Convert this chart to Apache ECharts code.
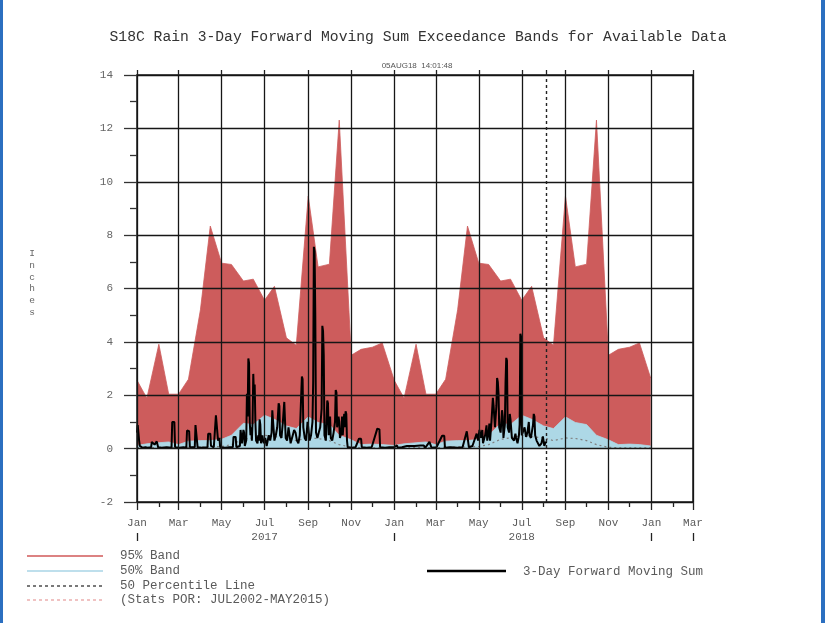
<!DOCTYPE html>
<html>
<head>
<meta charset="utf-8">
<script src="https://cdn.jsdelivr.net/npm/echarts@6/dist/echarts.min.js"></script>
<style>
  html, body { margin: 0; padding: 0; background: #ffffff; }
  #chart { width: 827px; height: 623px; }
</style>
</head>
<body>
<div id="chart"></div>
<script>
// ---- data ----------------------------------------------------------------
// Climatology sample dates (1st and 15th of every month), repeated each year
const halfMonthDates = ['01-01','01-15','02-01','02-15','03-01','03-15','04-01','04-15',
  '05-01','05-15','06-01','06-15','07-01','07-15','08-01','08-15',
  '09-01','09-15','10-01','10-15','11-01','11-15','12-01','12-15'];
const bandYears = [2017, 2018];
const bandEndDate = '2018-12-31';

// 95% exceedance band, upper edge (inches)
const band95 = [2.56, 1.89, 3.91, 2.04, 2.04, 2.6, 5.2, 8.34, 6.95, 6.9, 6.28, 6.35,
  5.56, 6.08, 4.15, 3.87, 9.46, 6.81, 6.91, 12.31, 3.5, 3.72, 3.8, 3.96];
const band95End = 2.64;

// 50% exceedance band, upper edge (inches)
const band50 = [0.12, 0.18, 0.22, 0.25, 0.15, 0.28, 0.3, 0.3, 0.35, 0.5, 0.95, 0.9,
  1.25, 1.1, 0.85, 0.75, 1.19, 0.98, 0.9, 0.5, 0.33, 0.15, 0.17, 0.15];
const band50End = 0.1;

// 50 percentile line (inches)
const median = [0.03, 0.03, 0.04, 0.04, 0.03, 0.05, 0.06, 0.06, 0.08, 0.15, 0.35, 0.4,
  0.5, 0.45, 0.4, 0.3, 0.4, 0.38, 0.3, 0.15, 0.05, 0.03, 0.03, 0.03];
const medianEnd = 0.03;

// Observed 3-day forward moving sum: [day since 2017-01-01, inches]
const movingSum = [
  [0,0.6],[1,0.88],[2,0.85],[3,0.3],[4,0.1],[5,0.05],[8,0.03],[12,0.05],[15,0.03],
  [20,0.05],[21,0.25],[23,0.27],[24,0.27],[25,0.15],[26,0.22],[28,0.27],[29,0.25],[30,0.05],
  [35,0.03],[42,0.05],[49,0.03],[50,1.0],[53,1.0],[54,0.05],
  [60,0.03],[66,0.05],[70,0.03],[71,0.68],[74,0.65],[75,0.05],
  [82,0.05],[83,0.88],[85,0.85],[86,0.05],
  [92,0.03],[100,0.05],[101,0.56],[104,0.56],[105,0.1],
  [109,0.05],[111,0.1],[112,1.25],[114,1.2],[115,0.3],[117,0.4],[118,0.05],
  [125,0.03],[131,0.05],[136,0.05],[137,0.44],[140,0.44],[141,0.05],
  [146,0.1],[147,0.7],[149,0.2],[150,0.25],[151,0.7],[152,0.6],[153,0.1],
  [155,0.3],[156,2.06],[157,1.2],[158,3.38],[159,3.2],[160,1.0],[161,0.5],[162,0.8],[163,0.3],
  [164,1.0],[165,2.8],[166,2.0],[167,2.4],[168,1.0],[169,0.3],
  [171,0.2],[172,0.5],[173,0.3],[174,1.1],[175,0.9],[176,0.2],[178,0.5],[179,0.3],
  [180,0.2],[182,0.4],[184,0.1],[187,0.5],[189,0.3],[191,0.6],[192,1.44],[194,1.4],[195,0.3],
  [197,0.5],[199,0.8],[201,1.7],[202,1.6],[203,0.5],[205,0.4],[207,1.0],[209,1.75],[210,1.7],
  [211,0.4],[213,0.3],[215,0.8],[216,0.6],[218,0.2],[220,0.4],[223,0.7],[225,0.6],[227,0.3],
  [229,0.2],[231,0.5],[233,2.0],[234,2.7],[235,2.6],[236,0.8],[238,0.4],[240,0.3],[242,1.0],
  [243,0.8],[245,0.3],[247,0.5],[249,1.0],[250,2.5],[251,7.56],[252,7.4],[253,5.0],[254,0.6],
  [256,0.4],[258,0.6],[260,0.8],[262,1.5],[263,4.6],[264,4.4],[265,3.5],[266,0.5],[268,0.3],
  [270,1.8],[271,1.7],[272,0.5],[274,1.2],[275,0.4],[277,0.3],[279,0.6],[281,1.0],[282,2.2],
  [283,2.1],[284,0.8],[286,1.2],[287,1.0],[288,0.4],[290,0.6],[291,1.2],[292,0.5],[294,1.3],
  [295,0.8],[296,1.4],[297,1.3],[298,0.3],[299,0.05],
  [305,0.03],[310,0.05],[315,0.37],[318,0.37],[319,0.05],[326,0.03],[333,0.05],
  [341,0.75],[344,0.72],[345,0.05],[352,0.03],[358,0.05],
  [365,0.05],[367,0.12],[369,0.12],[370,0.03],[376,0.05],[383,0.1],[386,0.1],[388,0.05],
  [391,0.1],[394,0.1],[396,0.03],[402,0.12],[404,0.1],[407,0.12],[409,0.03],[415,0.25],
  [417,0.25],[418,0.03],[425,0.05],[433,0.48],[436,0.48],[437,0.03],[445,0.05],[455,0.03],
  [462,0.05],[468,0.65],[470,0.62],[471,0.05],[476,0.1],[482,0.56],[484,0.3],[486,0.7],
  [488,0.4],[490,0.7],[491,0.2],[494,0.5],[496,0.87],[497,0.3],[499,0.6],[500,0.94],[501,0.3],
  [503,1.0],[505,1.9],[506,1.6],[508,0.8],[510,1.6],[511,2.65],[512,2.5],[513,2.06],[514,0.8],
  [516,0.6],[518,1.44],[519,1.2],[520,0.4],[522,0.9],[523,2.5],[524,3.4],[525,3.3],[526,0.8],
  [528,0.6],[529,1.3],[530,1.1],[532,0.4],[535,0.3],[537,0.56],[538,0.4],[540,0.2],[542,0.5],
  [543,0.9],[544,4.3],[545,4.2],[546,0.5],[548,0.44],[550,0.8],[552,0.44],[554,0.6],[556,1.0],
  [557,0.5],[559,0.4],[562,0.9],[563,1.3],[564,1.2],[565,0.5],[567,0.3],[569,0.3],[571,0.1],
  [574,0.2],[576,0.46],[577,0.4],[578,0.1],[580,0.25],[581,0.2]
];

// Axis ticks and labels
const axisStart = '2017-01-01';
const axisEnd = '2019-03-01';
const labeledMonths = ['2017-01-01','2017-03-01','2017-05-01','2017-07-01','2017-09-01','2017-11-01',
  '2018-01-01','2018-03-01','2018-05-01','2018-07-01','2018-09-01','2018-11-01','2019-01-01','2019-03-01'];
const minorMonths = ['2017-02-01','2017-04-01','2017-06-01','2017-08-01','2017-10-01','2017-12-01',
  '2018-02-01','2018-04-01','2018-06-01','2018-08-01','2018-10-01','2018-12-01','2019-02-01'];
const yearLabels = [['2017','2017-07-01'], ['2018','2018-07-01']];
const yearMarks = ['2017-01-01','2018-01-01','2019-01-01','2019-03-01'];
const monthNames = ['Jan','Feb','Mar','Apr','May','Jun','Jul','Aug','Sep','Oct','Nov','Dec'];
const runDate = '2018-08-05';

const titleText = 'S18C Rain 3-Day Forward Moving Sum Exceedance Bands for Available Data';
const stampText = '05AUG18  14:01:48';
const yName = 'Inches';

// ---- helpers: x positions are days since axisStart ----------------------
const DAY = 86400000;
function ts(s) { const p = s.split('-').map(Number); return Date.UTC(p[0], p[1] - 1, p[2]); }
const T0 = ts(axisStart);
function dayOf(s) { return Math.round((ts(s) - T0) / DAY); }

function bandSeries(vals, endVal) {
  const out = [];
  bandYears.forEach(function (y) {
    halfMonthDates.forEach(function (md, i) { out.push([dayOf(y + '-' + md), vals[i]]); });
  });
  out.push([dayOf(bandEndDate), endVal]);
  return out;
}
const monthLabelMap = {};
labeledMonths.forEach(function (s) { monthLabelMap[dayOf(s)] = monthNames[Number(s.split('-')[1]) - 1]; });
const yearLabelMap = {};
yearLabels.forEach(function (p) { yearLabelMap[dayOf(p[1])] = p[0]; });

// ---- chart ---------------------------------------------------------------
const MONO = 'Liberation Mono';
const TXT = '#5a5a5a';
const GRID = '#161616';
const X_MIN = dayOf(axisStart), X_MAX = dayOf(axisEnd);
const chart = echarts.init(document.getElementById('chart'), null, { renderer: 'canvas' });

const option = {
  animation: false,
  backgroundColor: '#ffffff',
  grid: { left: 137, right: 134, top: 75, bottom: 121, containLabel: false },
  xAxis: [
    { // main axis with labelled months and vertical grid
      type: 'value', min: X_MIN, max: X_MAX, position: 'bottom', z: 3,
      axisLine: { show: true, onZero: false, lineStyle: { color: GRID, width: 1.5 } },
      axisTick: { show: true, length: 8, customValues: labeledMonths.map(dayOf), lineStyle: { color: '#222', width: 1.3 } },
      axisLabel: {
        customValues: labeledMonths.map(dayOf), margin: 16, fontFamily: MONO, fontSize: 11, color: TXT,
        formatter: function (v) { return monthLabelMap[Math.round(v)] || ''; }
      },
      splitLine: { show: true, lineStyle: { color: GRID, width: 1.3 } }
    },
    { // intermediate month ticks
      type: 'value', min: X_MIN, max: X_MAX, position: 'bottom', z: 3,
      axisLine: { show: false, onZero: false },
      axisTick: { show: true, length: 5, customValues: minorMonths.map(dayOf), lineStyle: { color: '#222', width: 1.3 } },
      axisLabel: { show: false }, splitLine: { show: false }
    },
    { // top frame
      type: 'value', min: X_MIN, max: X_MAX, position: 'top', z: 3,
      axisLine: { show: true, onZero: false, lineStyle: { color: GRID, width: 1.5 } },
      axisTick: { show: true, length: 5, customValues: labeledMonths.map(dayOf).concat([dayOf(runDate)]), lineStyle: { color: '#222', width: 1.3 } },
      axisLabel: { show: false }, splitLine: { show: false }
    },
    { // year row
      type: 'value', min: X_MIN, max: X_MAX, position: 'bottom', offset: 31, z: 3,
      axisLine: { show: false, onZero: false },
      axisTick: { show: true, length: 8, customValues: yearMarks.map(dayOf), lineStyle: { color: '#222', width: 1.3 } },
      axisLabel: {
        customValues: yearLabels.map(function (p) { return dayOf(p[1]); }), margin: -1,
        fontFamily: MONO, fontSize: 11, color: TXT,
        formatter: function (v) { return yearLabelMap[Math.round(v)] || ''; }
      },
      splitLine: { show: false }
    }
  ],
  yAxis: [
    {
      type: 'value', min: -2, max: 14, interval: 2, position: 'left', z: 3,
      axisLine: { show: true, onZero: false, lineStyle: { color: GRID, width: 1.5 } },
      axisTick: { show: true, length: 13, lineStyle: { color: '#333', width: 1.3 } },
      minorTick: { show: true, splitNumber: 2, length: 7, lineStyle: { color: '#333', width: 1.3 } },
      axisLabel: { margin: 24, fontFamily: MONO, fontSize: 11, color: '#666' },
      splitLine: { show: true, lineStyle: { color: GRID, width: 1.3 } }
    },
    {
      type: 'value', min: -2, max: 14, interval: 2, position: 'right', z: 3,
      axisLine: { show: true, onZero: false, lineStyle: { color: GRID, width: 1.5 } },
      axisTick: { show: false }, axisLabel: { show: false }, splitLine: { show: false }
    }
  ],
  series: [
    {
      name: '95% Band', type: 'line', data: bandSeries(band95, band95End), symbol: 'none', z: 1,
      lineStyle: { width: 0.8, color: '#CD5C5C' }, areaStyle: { color: '#CD5C5C', opacity: 1 }
    },
    {
      name: '50% Band', type: 'line', data: bandSeries(band50, band50End), symbol: 'none', z: 1,
      lineStyle: { width: 0.8, color: '#ADD8E6' }, areaStyle: { color: '#ADD8E6', opacity: 1 }
    },
    {
      name: '50 Percentile Line', type: 'line', data: bandSeries(median, medianEnd), symbol: 'none', z: 1,
      lineStyle: { width: 1.2, color: '#808080', type: [2, 3] }
    },
    {
      name: '3-Day Forward Moving Sum', type: 'line', data: movingSum, symbol: 'none', z: 2,
      lineStyle: { width: 2, color: '#000000' },
      markLine: {
        silent: true, symbol: 'none', label: { show: false },
        lineStyle: { color: '#222', type: [3, 3], width: 1.4 },
        data: [{ xAxis: dayOf(runDate) }]
      }
    }
  ],
  graphic: [
    { type: 'rect', left: 0, top: 0, shape: { width: 3, height: 623 }, style: { fill: '#2b6fc0' } },
    { type: 'rect', left: 821, top: 0, shape: { width: 4, height: 623 }, style: { fill: '#2b6fc0' } },
    { type: 'text', x: 418, y: 37, style: { text: titleText, fontFamily: MONO, fontSize: 14.7, fill: '#333', align: 'center', verticalAlign: 'middle' } },
    { type: 'text', x: 417, y: 66, style: { text: stampText, fontFamily: 'Liberation Sans', fontSize: 8, fill: '#555', align: 'center', verticalAlign: 'middle' } },
    { type: 'text', x: 32, y: 283, style: { text: yName.split('').join('\n'), fontFamily: MONO, fontSize: 9.5, lineHeight: 11.8, fill: '#666', align: 'center', verticalAlign: 'middle' } },
    // legend
    { type: 'line', shape: { x1: 27, y1: 556, x2: 103, y2: 556 }, style: { stroke: '#D05858', lineWidth: 1.6 } },
    { type: 'line', shape: { x1: 27, y1: 571, x2: 103, y2: 571 }, style: { stroke: '#A8D4E6', lineWidth: 1.6 } },
    { type: 'line', shape: { x1: 27, y1: 586, x2: 103, y2: 586 }, style: { stroke: '#222', lineWidth: 1.2, lineDash: [3, 3] } },
    { type: 'line', shape: { x1: 27, y1: 600, x2: 103, y2: 600 }, style: { stroke: '#E69A9A', lineWidth: 1.2, lineDash: [3, 3] } },
    { type: 'line', shape: { x1: 427, y1: 571, x2: 506, y2: 571 }, style: { stroke: '#000', lineWidth: 2.4 } },
    { type: 'text', x: 120, y: 556, style: { text: '95% Band', fontFamily: MONO, fontSize: 12.5, fill: TXT, verticalAlign: 'middle' } },
    { type: 'text', x: 120, y: 571, style: { text: '50% Band', fontFamily: MONO, fontSize: 12.5, fill: TXT, verticalAlign: 'middle' } },
    { type: 'text', x: 120, y: 586, style: { text: '50 Percentile Line', fontFamily: MONO, fontSize: 12.5, fill: TXT, verticalAlign: 'middle' } },
    { type: 'text', x: 120, y: 600, style: { text: '(Stats POR: JUL2002-MAY2015)', fontFamily: MONO, fontSize: 12.5, fill: TXT, verticalAlign: 'middle' } },
    { type: 'text', x: 523, y: 572, style: { text: '3-Day Forward Moving Sum', fontFamily: MONO, fontSize: 12.5, fill: TXT, verticalAlign: 'middle' } }
  ]
};
chart.setOption(option);
</script>
</body>
</html>
